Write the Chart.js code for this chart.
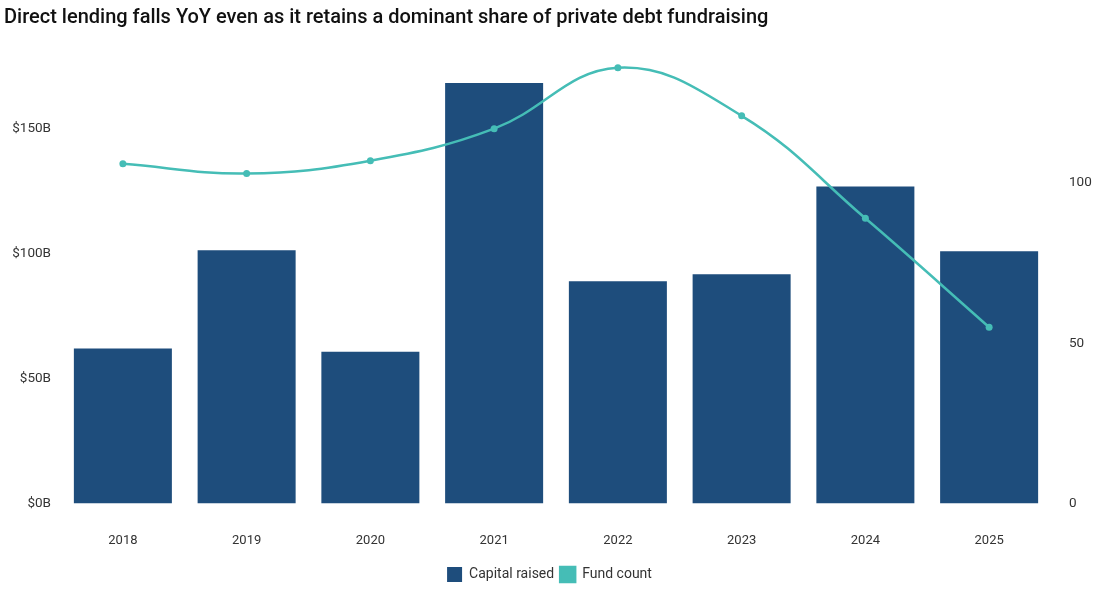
<!DOCTYPE html>
<html>
<head>
<meta charset="utf-8">
<script src="https://cdn.jsdelivr.net/npm/chart.js@4/dist/chart.umd.min.js"></script>
<style>
  html, body { margin: 0; padding: 0; background: #fff; }
  #wrap { width: 1095px; height: 600px; }
</style>
</head>
<body>
<div id="wrap"><canvas id="chart" width="1095" height="600"></canvas></div>
<script>
// data
const years = ['2018', '2019', '2020', '2021', '2022', '2023', '2024', '2025'];
const capitalRaised = [62, 101.4, 60.7, 168.4, 89, 91.8, 126.9, 101];   // $B
const fundCount = [106, 103, 107, 117, 136, 121, 89, 55];

const barColor = '#1e4d7c';
const lineColor = '#45bdb6';
const fontFam = 'Roboto, "Noto Sans", sans-serif';

// keep only multiples of 50 on both axes
function onlyFifties(scale) {
  scale.ticks = scale.ticks.filter(t => t.value % 50 === 0);
}

const data = {
  labels: years,
  datasets: [{
    type: 'bar',
    label: 'Capital raised',
    data: capitalRaised,
    backgroundColor: barColor,
    borderWidth: 0,
    categoryPercentage: 0.8,
    barPercentage: 0.99,
    yAxisID: 'y',
    order: 2
  }, {
    type: 'line',
    label: 'Fund count',
    data: fundCount,
    borderColor: lineColor,
    backgroundColor: lineColor,
    borderWidth: 2.5,
    pointRadius: 3.5,
    pointBackgroundColor: lineColor,
    pointBorderWidth: 0,
    tension: 0.4,
    yAxisID: 'y1',
    order: 1
  }]
};

const config = {
  data,
  options: {
    responsive: false,
    animation: false,
    layout: { padding: { left: 4, right: 0, top: 0, bottom: 8 } },
    plugins: {
      title: {
        display: true,
        text: 'Direct lending falls YoY even as it retains a dominant share of private debt fundraising',
        align: 'start',
        color: '#111',
        font: { family: fontFam, size: 20, weight: '500' },
        padding: { top: 6, bottom: 24 }
      },
      legend: {
        position: 'bottom',
        labels: {
          sort: (a, b) => a.datasetIndex - b.datasetIndex,
          boxWidth: 15,
          boxHeight: 15,
          padding: 6,
          color: '#333',
          font: { family: fontFam, size: 14 }
        }
      },
      tooltip: { enabled: false }
    },
    scales: {
      x: {
        grid: { display: false },
        border: { display: false },
        afterFit: s => { s.height -= 10; },
        ticks: {
          color: '#333',
          font: { family: fontFam, size: 13 },
          padding: 22
        }
      },
      y: {
        position: 'left',
        min: 0,
        max: 180,
        grid: { display: false },
        border: { display: false },
        afterBuildTicks: onlyFifties,
        afterFit: s => { s.width = 57; },
        ticks: {
          stepSize: 50,
          color: '#333',
          font: { family: fontFam, size: 13.5 },
          padding: 2,
          callback: v => '$' + v + 'B'
        }
      },
      y1: {
        position: 'right',
        min: 0,
        max: 140.3,
        grid: { display: false },
        border: { display: false },
        afterBuildTicks: onlyFifties,
        afterFit: s => { s.width = 44; },
        ticks: {
          stepSize: 50,
          color: '#333',
          font: { family: fontFam, size: 13.5 },
          padding: 10
        }
      }
    }
  }
};

const myChart = new Chart(document.getElementById('chart'), config);
</script>
</body>
</html>
